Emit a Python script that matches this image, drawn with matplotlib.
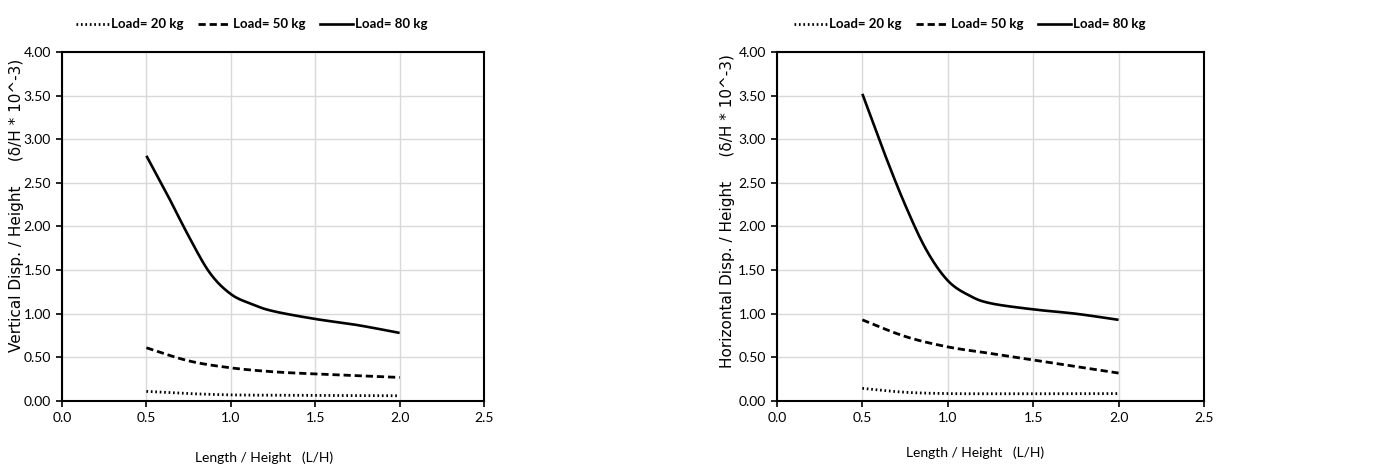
import numpy as np
import matplotlib
matplotlib.use("Agg")
from matplotlib import pyplot as plt
from matplotlib.lines import Line2D

# L/H ratios and normalised displacements (delta/H * 10^-3)
ratio = [0.5, 0.75, 1.0, 1.25, 1.5, 1.75, 2.0]
ratio_80 = [0.5, 0.625, 0.75, 0.875, 1.0, 1.125, 1.25, 1.5, 1.75, 2.0]

vert_20 = [0.11, 0.085, 0.07, 0.066, 0.064, 0.062, 0.06]
vert_50 = [0.61, 0.46, 0.38, 0.335, 0.31, 0.29, 0.27]
vert_80 = [2.81, 2.36, 1.89, 1.47, 1.225, 1.11, 1.03, 0.94, 0.87, 0.78]

horz_20 = [0.145, 0.10, 0.085, 0.083, 0.083, 0.084, 0.085]
horz_50 = [0.93, 0.74, 0.62, 0.545, 0.47, 0.395, 0.32]
horz_80 = [3.52, 2.86, 2.25, 1.73, 1.38, 1.21, 1.12, 1.05, 1.00, 0.93]

loads = ["Load= 20 kg", "Load= 50 kg", "Load= 80 kg"]
styles = [
    dict(linestyle=(0, (0.6, 1.0)), linewidth=2.0),
    dict(linestyle=(0, (2.6, 1.4)), linewidth=2.0),
    dict(linestyle="-", linewidth=1.9),
]

TICKFONT = "Lato"


def smooth(x, y, n=40):
    # Bezier smoothing as in a spreadsheet "smoothed line":
    # control points from neighbours, end points repeated
    p = np.column_stack([x, y]).astype(float)
    ext = np.vstack([p[:1], p, p[-1:]])
    t = np.linspace(0, 1, n)[:, None]
    segs = []
    for i in range(1, len(ext) - 2):
        p0, p1, p2, p3 = ext[i - 1], ext[i], ext[i + 1], ext[i + 2]
        c1 = p1 + (p2 - p0) / 6.0
        c2 = p2 - (p3 - p1) / 6.0
        segs.append((1 - t) ** 3 * p1 + 3 * (1 - t) ** 2 * t * c1
                    + 3 * (1 - t) * t ** 2 * c2 + t ** 3 * p2)
    pts = np.vstack(segs)
    return pts[:, 0], pts[:, 1]


def panel(ax, series):
    for (xs, vals), st in zip(series, styles):
        sx, sy = smooth(xs, vals)
        ax.plot(sx, sy, color="black", solid_capstyle="butt",
                dash_capstyle="butt", **st)
    ax.set_xlim(0, 2.5)
    ax.set_ylim(0, 4)
    ax.set_xticks(np.arange(0, 2.51, 0.5))
    ax.set_yticks(np.arange(0, 4.01, 0.5))
    ax.set_xticklabels(["%.1f" % v for v in np.arange(0, 2.51, 0.5)],
                       family=TICKFONT, fontsize=10)
    ax.set_yticklabels(["%.2f" % v for v in np.arange(0, 4.01, 0.5)],
                       family=TICKFONT, fontsize=10)
    ax.grid(True, color="#d9d9d9", linewidth=1.0)
    ax.set_axisbelow(True)
    for sp in ax.spines.values():
        sp.set_color("black")
        sp.set_linewidth(1.5)
    ax.tick_params(direction="out", length=4, width=1.2, pad=4)


fig = plt.figure(figsize=(13.81, 4.66), dpi=100)
ax1 = fig.add_axes([0.0449, 0.1395, 0.3056, 0.749])
ax2 = fig.add_axes([0.5626, 0.1395, 0.3092, 0.749])

panel(ax1, [(ratio, vert_20), (ratio, vert_50), (ratio_80, vert_80)])
panel(ax2, [(ratio, horz_20), (ratio, horz_50), (ratio_80, horz_80)])

handles = [Line2D([], [], color="black", **st) for st in styles]
for cx in (0.1825, 0.7024):
    fig.legend(handles, loads, loc="center", bbox_to_anchor=(cx, 0.948),
               ncol=3, frameon=False, handlelength=2.5, handletextpad=0.15,
               columnspacing=1.1,
               prop=dict(family=TICKFONT, weight="bold", size=9.5))

fig.text(0.191, 0.017, "Length / Height   (L/H)", ha="center", va="center",
         family=TICKFONT, fontsize=10)
fig.text(0.706, 0.028, "Length / Height   (L/H)", ha="center", va="center",
         family=TICKFONT, fontsize=10)
fig.text(0.0123, 0.56, "Vertical Disp. / Height     (\u03b4/H * 10^-3)",
         rotation=90, ha="center", va="center", family="DejaVu Sans", fontsize=11)
fig.text(0.527, 0.548, "Horizontal Disp. / Height     (\u03b4/H * 10^-3)",
         rotation=90, ha="center", va="center", family="DejaVu Sans", fontsize=11)

fig.savefig("out.png", dpi=100)
